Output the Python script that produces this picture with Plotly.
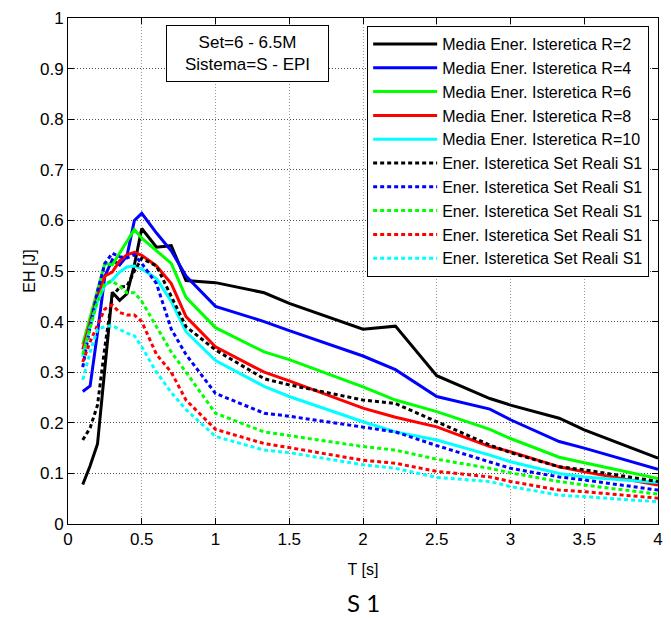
import plotly.graph_objects as go

# Periods T [s]
T = [0.10, 0.15, 0.20, 0.25, 0.30, 0.35, 0.40, 0.45, 0.50, 0.60, 0.70, 0.80,
     1.00, 1.33, 1.50, 2.00, 2.22, 2.50, 2.86, 3.00, 3.33, 3.50, 4.00]

# Mean hysteretic energy for each behaviour factor R
eh_r2 = [0.078, 0.115, 0.158, 0.310, 0.458, 0.442, 0.455, 0.512, 0.584, 0.547, 0.550, 0.481,
         0.477, 0.457, 0.436, 0.385, 0.391, 0.293, 0.248, 0.235, 0.209, 0.186, 0.130]
eh_r4 = [0.262, 0.273, 0.378, 0.490, 0.522, 0.512, 0.530, 0.600, 0.614, 0.575, 0.540, 0.490,
         0.430, 0.400, 0.382, 0.332, 0.305, 0.252, 0.227, 0.206, 0.163, 0.150, 0.108]
eh_r6 = [0.355, 0.410, 0.465, 0.515, 0.512, 0.535, 0.560, 0.582, 0.565, 0.540, 0.515, 0.448,
         0.388, 0.340, 0.325, 0.271, 0.245, 0.222, 0.187, 0.169, 0.132, 0.121, 0.090]
eh_r8 = [0.345, 0.400, 0.450, 0.490, 0.498, 0.520, 0.532, 0.537, 0.531, 0.510, 0.475, 0.410,
         0.350, 0.300, 0.283, 0.229, 0.211, 0.192, 0.153, 0.143, 0.113, 0.103, 0.077]
eh_r10 = [0.330, 0.390, 0.440, 0.472, 0.482, 0.498, 0.508, 0.510, 0.504, 0.485, 0.440, 0.380,
          0.323, 0.272, 0.252, 0.202, 0.182, 0.166, 0.136, 0.123, 0.100, 0.093, 0.082]

# Hysteretic energy from the real record set S1
set_black = [0.166, 0.190, 0.235, 0.350, 0.450, 0.468, 0.470, 0.500, 0.525, 0.510, 0.450, 0.390,
             0.344, 0.287, 0.275, 0.245, 0.238, 0.202, 0.156, 0.141, 0.113, 0.107, 0.084]
set_blue = [0.310, 0.390, 0.460, 0.515, 0.535, 0.528, 0.526, 0.532, 0.515, 0.475, 0.385, 0.335,
            0.258, 0.219, 0.213, 0.192, 0.182, 0.155, 0.123, 0.110, 0.093, 0.087, 0.067]
set_green = [0.335, 0.390, 0.440, 0.475, 0.480, 0.470, 0.457, 0.457, 0.440, 0.390, 0.340, 0.300,
             0.219, 0.182, 0.175, 0.153, 0.146, 0.128, 0.110, 0.101, 0.084, 0.077, 0.059]
set_red = [0.320, 0.360, 0.393, 0.425, 0.433, 0.418, 0.413, 0.413, 0.400, 0.335, 0.300, 0.245,
           0.187, 0.159, 0.151, 0.126, 0.120, 0.104, 0.093, 0.084, 0.067, 0.064, 0.051]
set_cyan = [0.285, 0.340, 0.385, 0.390, 0.392, 0.385, 0.377, 0.372, 0.350, 0.300, 0.260, 0.226,
            0.173, 0.146, 0.141, 0.117, 0.110, 0.092, 0.084, 0.074, 0.057, 0.054, 0.044]

mean_names = ["Media Ener. Isteretica R=2", "Media Ener. Isteretica R=4",
              "Media Ener. Isteretica R=6", "Media Ener. Isteretica R=8",
              "Media Ener. Isteretica R=10"]
set_name = "Ener. Isteretica Set Reali S1"
colors = ["#000000", "#0000ff", "#00ff00", "#ff0000", "#00ffff"]

mean_series = [eh_r2, eh_r4, eh_r6, eh_r8, eh_r10]
set_series = [set_black, set_blue, set_green, set_red, set_cyan]

FONT = "Liberation Sans, Arial, sans-serif"

fig = go.Figure()
for name, ys, c in zip(mean_names, mean_series, colors):
    fig.add_trace(go.Scatter(x=T, y=ys, mode="lines", name=name,
                             line=dict(color=c, width=3)))
for ys, c in zip(set_series, colors):
    fig.add_trace(go.Scatter(x=T, y=ys, mode="lines", name=set_name,
                             line=dict(color=c, width=3, dash="4px,3px")))

axis_common = dict(
    showline=True, linecolor="black", linewidth=1, mirror="ticks",
    ticks="inside", ticklen=6, tickcolor="black",
    showgrid=True, griddash="1px,2px", gridwidth=1,
    zeroline=False,
    tickfont=dict(family=FONT, size=17, color="black"),
)

fig.update_xaxes(range=[0, 4],
                 tickvals=[0, 0.5, 1, 1.5, 2, 2.5, 3, 3.5, 4],
                 ticktext=["0", "0.5", "1", "1.5", "2", "2.5", "3", "3.5", "4"],
                 gridcolor="#9a9a9a",
                 title=dict(text="T [s]", font=dict(family=FONT, size=16, color="black"),
                            standoff=15),
                 **axis_common)
fig.update_yaxes(range=[0, 1],
                 tickvals=[i / 10 for i in range(11)],
                 ticktext=["0", "0.1", "0.2", "0.3", "0.4", "0.5", "0.6", "0.7", "0.8", "0.9", "1"],
                 gridcolor="#505050",
                 title=dict(text="EH [J]", font=dict(family=FONT, size=16, color="black"),
                            standoff=0),
                 **axis_common)

fig.update_layout(
    width=671, height=618,
    margin=dict(l=68, r=8, t=18, b=94),
    paper_bgcolor="white", plot_bgcolor="white",
    font=dict(family=FONT, color="black"),
    showlegend=True,
    legend=dict(x=0.985, y=0.984, xanchor="right", yanchor="top",
                bgcolor="white", bordercolor="black", borderwidth=1,
                font=dict(family=FONT, size=16, color="black"),
                itemwidth=64, tracegroupgap=0),
    annotations=[
        dict(text="Set=6 - 6.5M<br>Sistema=S - EPI", xref="paper", yref="paper",
             x=0.3045, y=0.929, xanchor="center", yanchor="middle", showarrow=False,
             font=dict(family=FONT, size=17, color="black"),
             bordercolor="black", borderwidth=1, borderpad=3, bgcolor="white",
             width=155, height=49),
        dict(text="S 1", xref="paper", yref="paper", x=0.5, y=-0.155,
             xanchor="center", yanchor="middle", showarrow=False,
             font=dict(family="Lato, Open Sans, sans-serif", size=24, color="black")),
    ],
)

fig.write_html("out.html")
